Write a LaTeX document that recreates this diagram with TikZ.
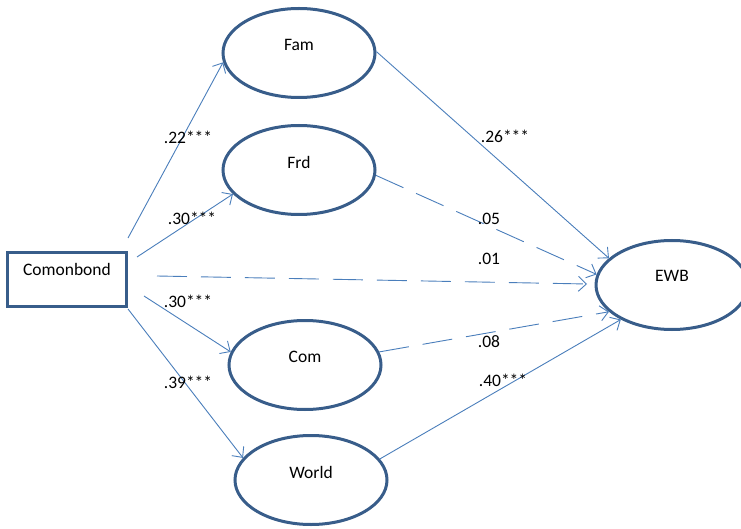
\documentclass[tikz,border=0pt]{standalone}
\usepackage{fontspec}
\setmainfont{Carlito}
\usetikzlibrary{shapes.geometric,arrows.meta}
\definecolor{outl}{RGB}{56,93,138}
\definecolor{arr}{RGB}{74,126,187}
\begin{document}
\begin{tikzpicture}[x=1pt,y=-1pt,
  every node/.style={font=\fontsize{17.5}{21}\selectfont, inner sep=0pt},
  latent/.style={ellipse, draw=outl, line width=3pt, minimum width=152pt, minimum height=89pt},
  obsbox/.style={rectangle, draw=outl, line width=3pt, minimum width=119pt, minimum height=54pt},
  path/.style={draw=arr, line width=0.9pt, -{Straight Barb[length=8pt,width=15pt]}},
  nspath/.style={path, dash pattern=on 30pt off 14pt},
  coef/.style={anchor=center}]
\useasboundingbox (0,0) rectangle (741,529);
\node[obsbox, label={[yshift=10pt]center:Comonbond}] (cb) at (67,279.5) {};
\node[latent, label={[yshift=8pt]center:Fam}] (fam) at (299,53) {};
\node[latent, label={[yshift=8pt]center:Frd}] (frd) at (299,170) {};
\node[latent, label={[yshift=8pt]center:Com}] (com) at (305,365) {};
\node[latent, label={[yshift=8pt]center:World}] (world) at (311,480) {};
\node[latent, label={[yshift=9pt]center:EWB}] (ewb) at (672,285) {};
\coordinate (s1) at (128,238);
\coordinate (s2) at (137,257);
\coordinate (s3) at (157,276);
\coordinate (s4) at (144,296);
\coordinate (s5) at (128,309);
\coordinate (e3) at (587,284);
\draw[path] (s1) -- (fam.187);
\draw[path] (s2) -- (frd.200);
\draw[nspath] (s3) -- (e3);
\draw[path] (s4) -- (com.170);
\draw[path] (s5) -- (world.162);
\draw[path] (fam.1) -- (ewb.157);
\draw[nspath] (frd.-4) -- (ewb.172);
\draw[nspath] (com.10) -- (ewb.203);
\draw[path] (world.17) -- (ewb.214);
\node[coef] (l1) at (188,137) {.22***};
\node[coef] (l2) at (192,218) {.30***};
\node[coef] (l3) at (489,259) {.01};
\node[coef] (l4) at (188,301) {.30***};
\node[coef] (l5) at (188,382) {.39***};
\node[coef] (l6) at (505,136) {.26***};
\node[coef] (l7) at (489,219) {.05};
\node[coef] (l8) at (489,342) {.08};
\node[coef] (l9) at (503,380) {.40***};
\end{tikzpicture}
\end{document}
